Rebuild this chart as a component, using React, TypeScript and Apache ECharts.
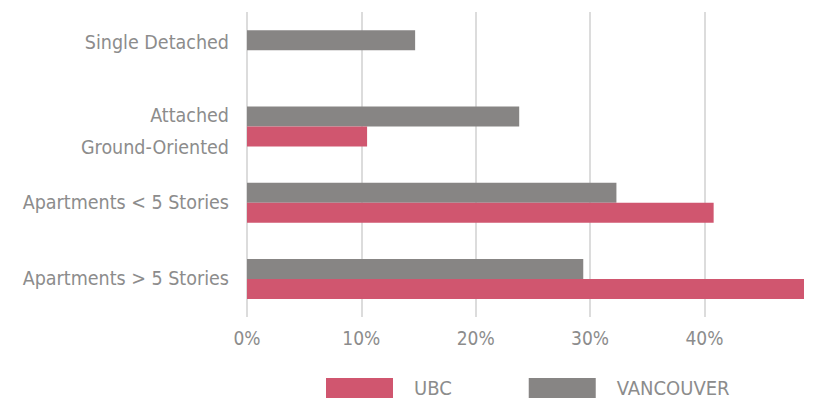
import React, { useEffect, useRef } from "react";
import * as echarts from "echarts";

const categories = [
  "Single Detached",
  "Attached\nGround-Oriented",
  "Apartments < 5 Stories",
  "Apartments > 5 Stories",
];
const vancouverValues = [14.7, 23.8, 32.3, 29.4];
const ubcValues = [0, 10.5, 40.8, 48.7];
const xTicks = [0, 10, 20, 30, 40];

const FONT = "'DejaVu Sans Condensed', 'DejaVu Sans', sans-serif";
const TEXT = "#8c8c8c";
const GRID = "#dcdcdc";

export default function App() {
  const ref = useRef<HTMLDivElement>(null);
  useEffect(() => {
    if (!ref.current) return;
    const chart = echarts.init(ref.current, null, { renderer: "svg" });
    const labelBase = { fontFamily: FONT, fontSize: 19.5, color: TEXT, lineHeight: 32 };
    chart.setOption({
      animation: false,
      textStyle: { fontFamily: FONT },
      grid: {
        left: 247,
        right: 21,
        top: 12,
        bottom: 92,
        containLabel: false,
        outerBoundsMode: "none",
      },
      legend: {
        left: 326,
        top: 378,
        padding: 0,
        itemWidth: 67,
        itemHeight: 20,
        itemGap: 77,
        icon: "rect",
        data: ["UBC", "VANCOUVER"],
        textStyle: {
          fontFamily: FONT,
          fontSize: 20,
          color: TEXT,
          padding: [0, 0, 0, 16],
        },
      },
      xAxis: {
        type: "value",
        min: xTicks[0],
        max: 48.7,
        interval: 10,
        axisLine: { show: false },
        axisTick: { show: false },
        splitLine: { show: false },
        axisLabel: {
          fontFamily: FONT,
          fontSize: 19,
          color: TEXT,
          margin: 11,
          showMaxLabel: false,
          formatter: (v: number) => (xTicks.includes(v) ? `${v}%` : ""),
        },
      },
      yAxis: {
        type: "category",
        inverse: true,
        data: categories,
        axisLine: { show: false },
        axisTick: { show: false },
        axisLabel: {
          ...labelBase,
          margin: 18,
          align: "right",
          formatter: (v: string, i: number) => {
            if (i === 0) return `{up|${v}}`;
            if (i === 1) return v.split("\n").map((s) => `{down|${s}}`).join("\n");
            return v;
          },
          rich: {
            up: { ...labelBase, padding: [0, 0, 15, 0] },
            down: { ...labelBase, padding: [10, 0, 0, 0], lineHeight: 32 },
          },
        },
      },
      series: [
        {
          name: "grid",
          type: "line",
          data: [],
          z: 0,
          silent: true,
          markLine: {
            z: 0,
            silent: true,
            symbol: "none",
            label: { show: false },
            lineStyle: { color: GRID, width: 2, type: "solid" },
            data: xTicks.map((t) => ({ xAxis: t })),
          },
        },
        {
          name: "VANCOUVER",
          type: "bar",
          data: vancouverValues,
          barWidth: 20,
          barGap: "0%",
          z: 6,
          itemStyle: { color: "#878584" },
        },
        {
          name: "UBC",
          type: "bar",
          data: ubcValues,
          barWidth: 20,
          barGap: "0%",
          z: 6,
          itemStyle: { color: "#d0566f" },
        },
      ],
    });
    return () => chart.dispose();
  }, []);
  return (
    <div
      ref={ref}
      style={{ width: 825, height: 409, position: "absolute", left: 0, top: 0 }}
    />
  );
}
